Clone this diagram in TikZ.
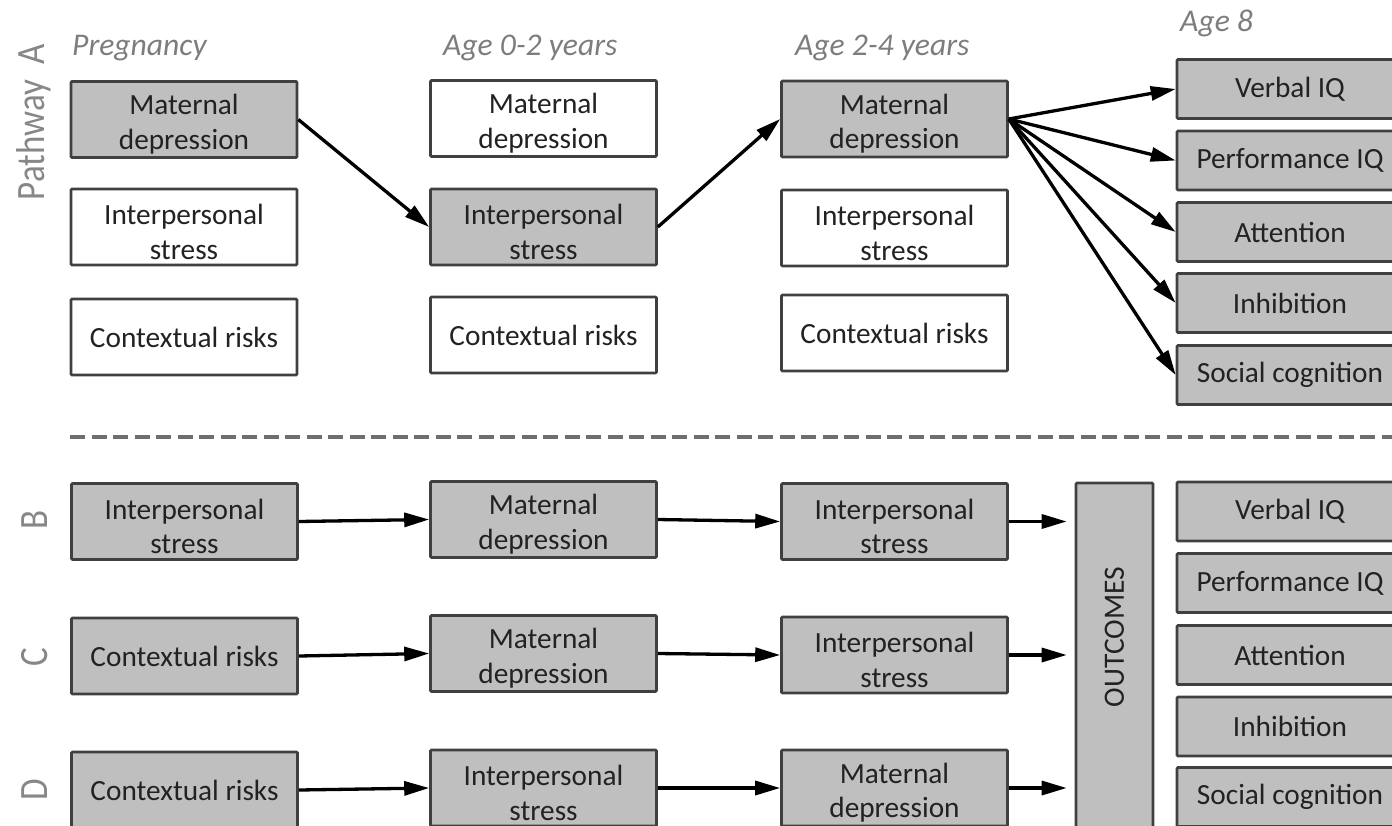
\documentclass[tikz,border=0pt]{standalone}
\usepackage{fontspec}
\setmainfont{Carlito}
\usetikzlibrary{arrows.meta}
\definecolor{boxgray}{RGB}{191,191,191}
\definecolor{edgec}{RGB}{64,64,64}
\definecolor{txtc}{RGB}{34,34,34}
\definecolor{hdrc}{RGB}{125,125,125}
\definecolor{labc}{RGB}{135,135,135}
\definecolor{dashc}{RGB}{110,110,110}
\newcommand{\tup}{\rule{0pt}{30pt}}
\begin{document}
\begin{tikzpicture}[x=1pt,y=-1pt,
  box/.style={draw=edgec, line width=2.6pt, minimum width=226pt, minimum height=76pt,
    inner sep=0pt, align=center, font=\fontsize{29.3}{34.5}\selectfont, text=txtc, rounded corners=1pt},
  gbox/.style={box, fill=boxgray},
  wbox/.style={box, fill=white},
  obox/.style={gbox, minimum height=59pt},
  hdr/.style={font=\fontsize{31.6}{36}\selectfont\itshape, text=hdrc, anchor=base west, inner sep=0pt},
  lab/.style={font=\fontsize{35}{38}\selectfont, text=labc, rotate=90, inner sep=0pt},
  arr/.style={-{Triangle[length=25pt,width=14pt]}, line width=3.3pt, black},
  dashline/.style={draw=dashc, line width=4.5pt, dash pattern=on 15pt off 6.5pt},
]
\useasboundingbox (0,0) rectangle (1392,825);
\clip (0,0) rectangle (1392,825);

% headers
\node[hdr] (h1) at (72,55) {Pregnancy};
\node[hdr] (h2) at (443,55) {Age 0-2 years};
\node[hdr] (h3) at (795,55) {Age 2-4 years};
\node[hdr] (h4) at (1180,31) {Age 8};

% pathway labels
\node[lab] (lA) at (34,122) {\scalebox{1}[1.15]{Pathway\hspace{0.45em}A}};
\node[lab] (lB) at (35,520) {\scalebox{1}[1.15]{B}};
\node[lab] (lC) at (35,657) {\scalebox{1}[1.15]{C}};
\node[lab] (lD) at (35,790) {\scalebox{1}[1.15]{D}};

% pathway A
\node[gbox] (a11) at (184,119.5) {\tup Maternal\\depression};
\node[wbox] (a12) at (184,227) {\tup Interpersonal\\stress};
\node[wbox] (a13) at (184,337) {Contextual risks};
\node[wbox] (a21) at (543.5,118.5) {\tup Maternal\\depression};
\node[gbox] (a22) at (543.5,227) {\tup Interpersonal\\stress};
\node[wbox] (a23) at (543.5,335) {Contextual risks};
\node[gbox] (a31) at (894.5,119) {\tup Maternal\\depression};
\node[wbox] (a32) at (894.5,228) {\tup Interpersonal\\stress};
\node[wbox] (a33) at (894.5,333) {Contextual risks};

\node[obox] (o1) at (1290,89) {Verbal IQ};
\node[obox] (o2) at (1290,160.5) {Performance IQ};
\node[obox] (o3) at (1290,232) {Attention};
\node[obox] (o4) at (1290,303) {Inhibition};
\node[obox] (o5) at (1290,375) {Social cognition};

\draw[arr] (a11.east) -- (a22.west);
\draw[arr] (a22.east) -- (a31.west);
\foreach \i in {1,...,5} {\draw[arr] (a31.east) -- (o\i.west);}

% separator
\coordinate (s1) at (70,437);
\coordinate (s2) at (1400,437);
\draw[dashline] (s1) -- (s2);

% pathways B, C, D
\node[gbox] (b11) at (184.5,521.5) {\tup Interpersonal\\stress};
\node[gbox] (b21) at (543.5,519.5) {\tup Maternal\\depression};
\node[gbox] (b31) at (894.5,521.5) {\tup Interpersonal\\stress};
\node[gbox] (c11) at (184.5,656) {Contextual risks};
\node[gbox] (c21) at (543.5,653.5) {\tup Maternal\\depression};
\node[gbox] (c31) at (894.5,655) {\tup Interpersonal\\stress};
\node[gbox] (d11) at (184.5,790) {Contextual risks};
\node[gbox] (d21) at (543.5,788) {\tup Interpersonal\\stress};
\node[gbox] (d31) at (894.5,788) {\tup Maternal\\depression};

\node[gbox, minimum width=77pt, minimum height=360pt] (out) at (1114.5,663) {};
\node[rotate=90, font=\fontsize{29.5}{33}\selectfont, text=txtc] (outl) at (1114.5,637) {OUTCOMES};

\node[obox] (p1) at (1290,511.5) {Verbal IQ};
\node[obox] (p2) at (1290,583) {Performance IQ};
\node[obox] (p3) at (1290,655) {Attention};
\node[obox] (p4) at (1290,726.5) {Inhibition};
\node[obox] (p5) at (1290,797) {Social cognition};

\draw[arr] (b11.east) -- (b21.west);
\draw[arr] (b21.east) -- (b31.west);
\draw[arr, shorten >=8pt] (b31.east) -- (b31.east -| out.west);
\draw[arr] (c11.east) -- (c21.west);
\draw[arr] (c21.east) -- (c31.west);
\draw[arr, shorten >=8pt] (c31.east) -- (c31.east -| out.west);
\draw[arr] (d11.east) -- (d21.west);
\draw[arr] (d21.east) -- (d31.west);
\draw[arr, shorten >=8pt] (d31.east) -- (d31.east -| out.west);
\end{tikzpicture}
\end{document}
